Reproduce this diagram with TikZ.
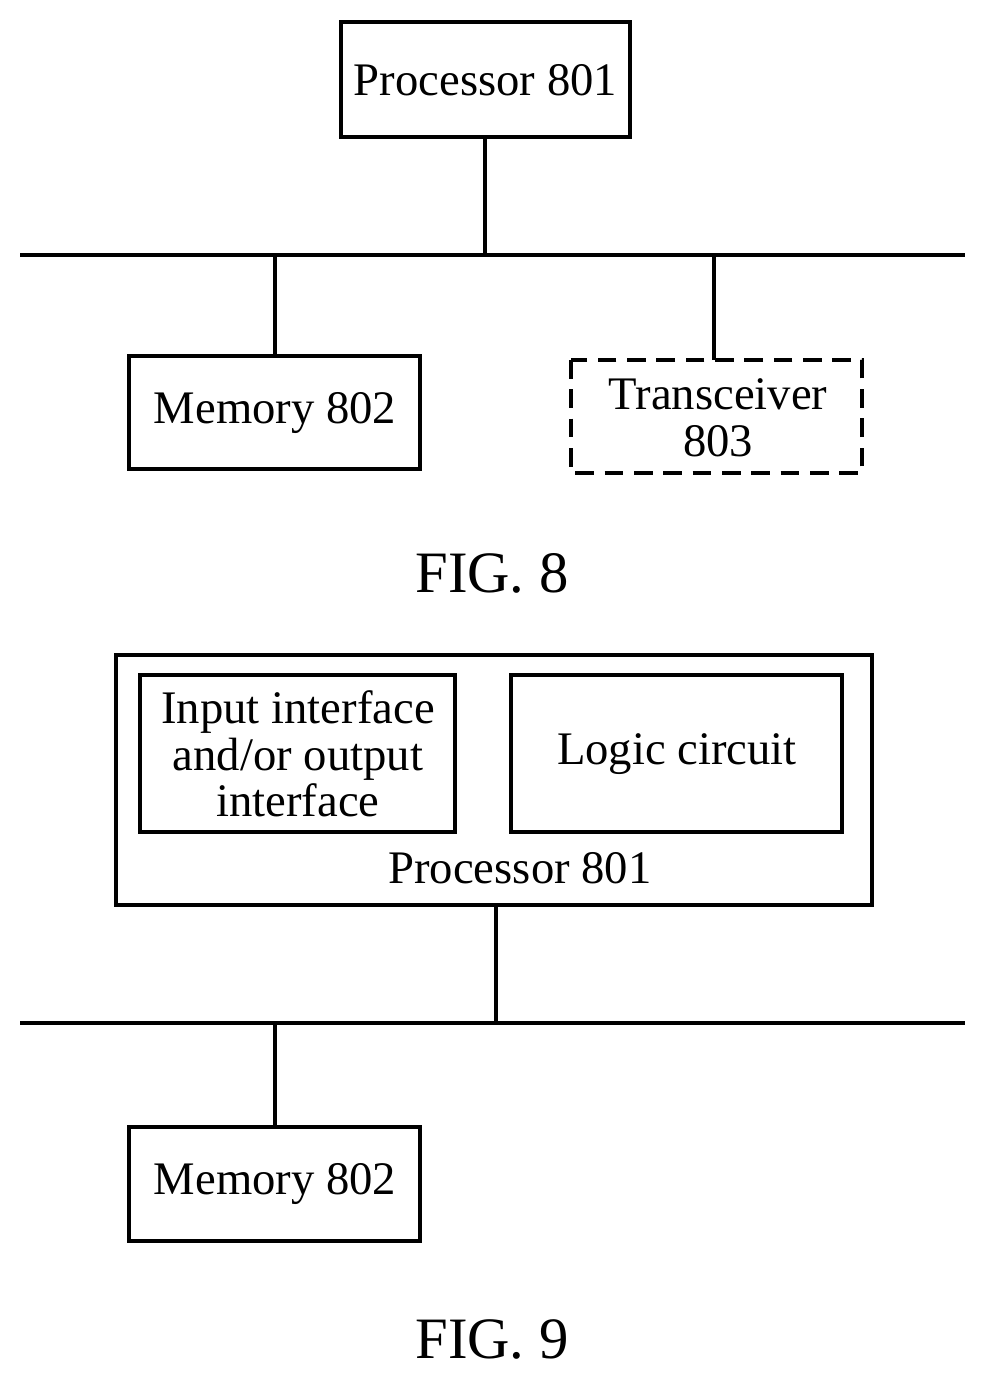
\documentclass[tikz,border=0pt]{standalone}
\usepackage{fontspec}
\setmainfont{Liberation Serif}
\begin{document}
\begin{tikzpicture}[x=0.75pt,y=-0.75pt,
  box/.style={draw,line width=2.6pt,inner sep=0pt},
  txt/.style={font=\fontsize{35}{35}\selectfont,align=center,inner sep=0pt},
  fig/.style={font=\fontsize{44}{48}\selectfont,inner sep=0pt},
  ln/.style={line width=2.6pt}]
\useasboundingbox (0,0) rectangle (985,1377);
% FIG 8
\draw[box] (341,22) rectangle (630,137);
\node[txt] (p8) at (485.5,80) {Processor 801};
\coordinate (p8b) at (485,137);
\coordinate (b8l) at (20,255); \coordinate (b8r) at (965,255);
\draw[ln] (b8l) -- (b8r);
\coordinate (j1) at (485,255);
\draw[ln] (p8b) -- (j1);
\draw[box] (129,356) rectangle (420,469);
\node[txt] (m8) at (275,413) {Memory 802};
\coordinate (j2) at (275,255); \coordinate (m8t) at (275,356);
\draw[ln] (j2) -- (m8t);
\draw[box,dashed,dash pattern=on 14pt off 8pt] (571,360) rectangle (862,473);
\node[txt] (t8) at (718,418) {Transceiver\\803};
\coordinate (j3) at (714,255); \coordinate (t8t) at (714,360);
\draw[ln] (j3) -- (t8t);
\node[fig] (f8) at (492,573) {FIG. 8};
% FIG 9
\draw[box] (116,655) rectangle (872,905);
\draw[box] (140,675) rectangle (455,832);
\node[txt] (io) at (298,754) {Input interface\\and/or output\\interface};
\draw[box] (511,675) rectangle (842,832);
\node[txt] (lc) at (677,754) {Logic circuit};
\node[txt] (p9) at (520,868) {Processor 801};
\coordinate (p9b) at (496,905);
\coordinate (b9l) at (20,1023); \coordinate (b9r) at (965,1023);
\draw[ln] (b9l) -- (b9r);
\coordinate (j4) at (496,1023);
\draw[ln] (p9b) -- (j4);
\draw[box] (129,1127) rectangle (420,1241);
\node[txt] (m9) at (275,1184) {Memory 802};
\coordinate (j5) at (275,1023); \coordinate (m9t) at (275,1127);
\draw[ln] (j5) -- (m9t);
\node[fig] (f9) at (492,1339) {FIG. 9};
\end{tikzpicture}
\end{document}
